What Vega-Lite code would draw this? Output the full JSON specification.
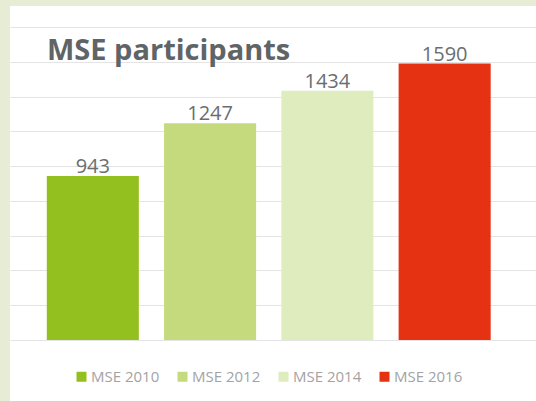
{
  "$schema": "https://vega.github.io/schema/vega-lite/v6.json",
  "width": 526,
  "height": 395,
  "autosize": {"type": "none"},
  "padding": {"left": 10, "top": 6, "right": 0, "bottom": 0},
  "background": "#E6EDD4",
  "config": {
    "view": {"fill": "#FFFFFF", "stroke": null},
    "font": "Open Sans"
  },
  "title": {
    "text": "MSE participants",
    "anchor": "start",
    "frame": "group",
    "orient": "top",
    "offset": 0,
    "dx": 37,
    "dy": 83,
    "baseline": "alphabetic",
    "font": "Open Sans",
    "fontSize": 29,
    "fontWeight": "bold",
    "color": "#5F6467"
  },
  "data": {
    "values": [
      {"label": "MSE 2010", "value": 943},
      {"label": "MSE 2012", "value": 1247},
      {"label": "MSE 2014", "value": 1434},
      {"label": "MSE 2016", "value": 1590}
    ]
  },
  "encoding": {
    "x": {
      "field": "label",
      "type": "nominal",
      "sort": null,
      "scale": {"paddingInner": 0.215, "paddingOuter": 0.35, "align": 0.448},
      "axis": null
    },
    "y": {
      "field": "value",
      "type": "quantitative",
      "scale": {"domain": [-351, 1921], "nice": false, "zero": false},
      "axis": {
        "values": [0, 200, 400, 600, 800, 1000, 1200, 1400, 1600, 1800],
        "grid": true,
        "gridColor": "#E4E4E4",
        "gridWidth": 1,
        "domain": false,
        "ticks": false,
        "labels": false,
        "title": null
      }
    }
  },
  "layer": [
    {
      "mark": {"type": "bar"},
      "encoding": {
        "y2": {"datum": 0},
        "color": {
          "field": "label",
          "type": "nominal",
          "sort": null,
          "scale": {
            "domain": ["MSE 2010", "MSE 2012", "MSE 2014", "MSE 2016"],
            "range": ["#93C01F", "#C4DA7C", "#DFEDBE", "#E53212"]
          },
          "legend": {
            "title": null,
            "orient": "none",
            "legendX": 64,
            "legendY": 363,
            "direction": "horizontal",
            "columns": 4,
            "columnPadding": 15,
            "symbolType": "square",
            "symbolSize": 100,
            "symbolStrokeWidth": 0,
            "symbolOffset": 0,
            "labelOffset": 2,
            "labelFont": "Open Sans",
            "labelFontSize": 15,
            "labelColor": "#A3A3A3",
            "padding": 0
          }
        }
      }
    },
    {
      "mark": {
        "type": "text",
        "baseline": "alphabetic",
        "dy": -3,
        "font": "Open Sans",
        "fontSize": 20,
        "color": "#6A6E70"
      },
      "encoding": {
        "text": {"field": "value", "type": "quantitative", "format": "d"}
      }
    }
  ]
}
